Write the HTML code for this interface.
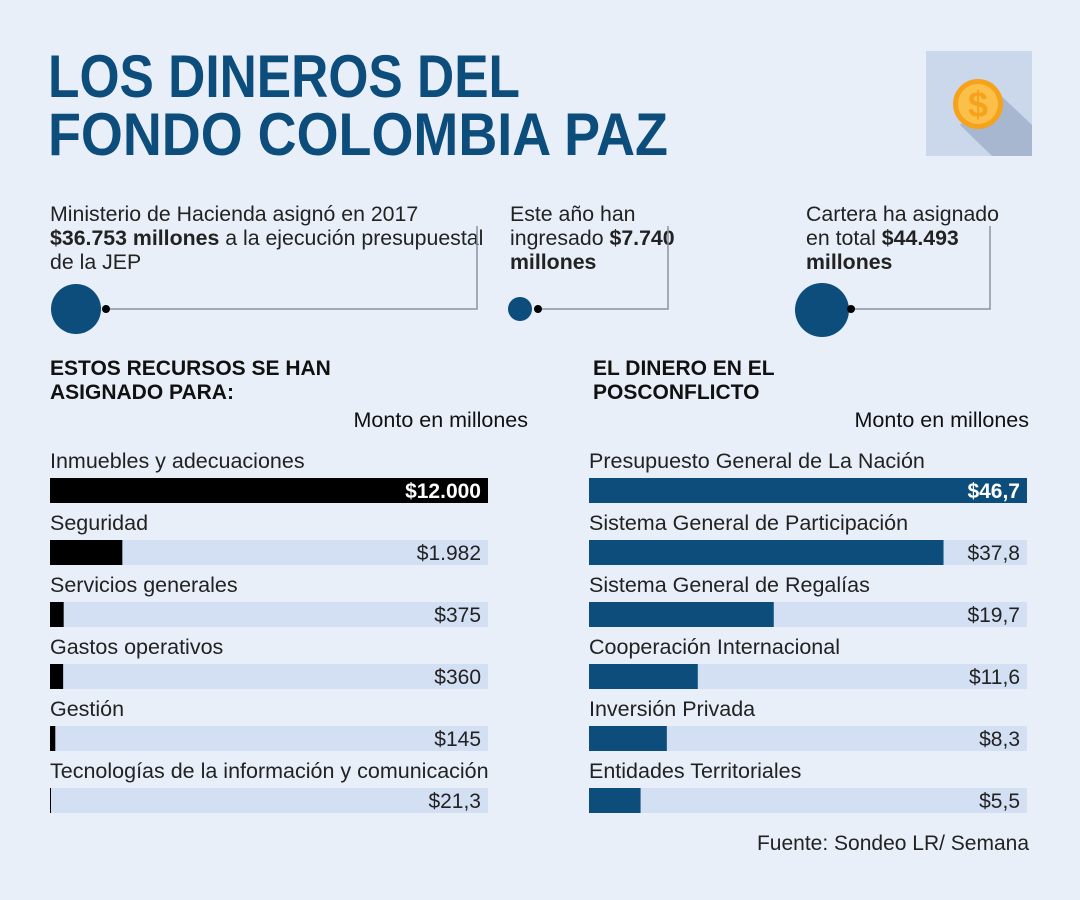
<!DOCTYPE html>
<html><head><meta charset="utf-8"><style>
body{margin:0;background:#e8eff9;}
svg{display:block;font-family:"Liberation Sans",sans-serif;}
</style></head><body>
<svg width="1080" height="900" viewBox="0 0 1080 900">
<rect width="1080" height="900" fill="#e8eff9"/>
<g fill="#0d4d7c" font-weight="bold" font-size="60">
<text x="48" y="97" textLength="472" lengthAdjust="spacingAndGlyphs">LOS DINEROS DEL</text>
<text x="48" y="155" textLength="620" lengthAdjust="spacingAndGlyphs">FONDO COLOMBIA PAZ</text>
</g>
<g>
<rect x="926" y="51" width="106" height="105" fill="#cbd7ea"/>
<polygon points="960,125 995,90 1032,125 1032,156 992,156" fill="#a7b7d0"/>
<circle cx="978" cy="104" r="25" fill="#f7a21b"/>
<circle cx="978" cy="104" r="20" fill="#fbc04a"/>
<text x="978" y="117" text-anchor="middle" font-size="36" font-weight="bold" fill="#f7a21b">$</text>
</g>
<g font-size="21.3" fill="#222">
<text x="50" y="221">Ministerio de Hacienda asignó en 2017</text>
<text x="50" y="245"><tspan font-weight="bold">$36.753 millones</tspan> a la ejecución presupuestal</text>
<text x="50" y="269">de la JEP</text>
<text x="510" y="221">Este año han</text>
<text x="510" y="245">ingresado <tspan font-weight="bold">$7.740</tspan></text>
<text x="510" y="269" font-weight="bold">millones</text>
<text x="806" y="221">Cartera ha asignado</text>
<text x="806" y="245">en total <tspan font-weight="bold">$44.493</tspan></text>
<text x="806" y="269" font-weight="bold">millones</text>
</g>
<g>
<polyline points="106,309 477,309 477,226" fill="none" stroke="#8a93a3" stroke-width="1.5"/>
<circle cx="76" cy="309" r="25" fill="#0d4d7c"/><circle cx="106" cy="309" r="4" fill="#000"/>
<polyline points="538,309 668,309 668,226" fill="none" stroke="#8a93a3" stroke-width="1.5"/>
<circle cx="520" cy="309" r="12" fill="#0d4d7c"/><circle cx="538" cy="309" r="4" fill="#000"/>
<polyline points="851,309 990,309 990,226" fill="none" stroke="#8a93a3" stroke-width="1.5"/>
<circle cx="822" cy="310" r="27" fill="#0d4d7c"/><circle cx="851" cy="309" r="4" fill="#000"/>
</g>
<g font-weight="bold" font-size="21" fill="#111">
<text x="50" y="375">ESTOS RECURSOS SE HAN</text>
<text x="50" y="399">ASIGNADO PARA:</text>
<text x="593" y="375">EL DINERO EN EL</text>
<text x="593" y="399">POSCONFLICTO</text>
</g>
<g font-size="21.5" fill="#111">
<text x="528" y="427" text-anchor="end">Monto en millones</text>
<text x="1029" y="427" text-anchor="end">Monto en millones</text>
</g>
<g id="left"></g>
<g id="right"></g>
<text x="1029" y="850" text-anchor="end" font-size="21" fill="#222">Fuente: Sondeo LR/ Semana</text>
</svg>
<script>
const leftCats=["Inmuebles y adecuaciones","Seguridad","Servicios generales","Gastos operativos","Gestión","Tecnologías de la información y comunicación"];
const leftVals=[12000,1982,375,360,145,21.3];
const leftLabels=["$12.000","$1.982","$375","$360","$145","$21,3"];
const rightCats=["Presupuesto General de La Nación","Sistema General de Participación","Sistema General de Regalías","Cooperación Internacional","Inversión Privada","Entidades Territoriales"];
const rightVals=[46.7,37.8,19.7,11.6,8.3,5.5];
const rightLabels=["$46,7","$37,8","$19,7","$11,6","$8,3","$5,5"];
const NS="http://www.w3.org/2000/svg";
function mk(t,a){const e=document.createElementNS(NS,t);for(const k in a)e.setAttribute(k,a[k]);return e;}
function draw(g,x0,cats,vals,labels,color){
  const W=438,max=Math.max(...vals);
  const sx=v=>v/max*W;
  cats.forEach((c,i)=>{
    const y=478+i*62;
    const lab=mk("text",{x:x0,y:y-10,"font-size":21.5,fill:"#222"});lab.textContent=c;
    
    
    g.appendChild(lab);
    const tr=mk("rect",{x:x0,y:y,width:W,height:25,fill:"#d3e0f3"});
    
    
    g.appendChild(tr);
    const b=mk("rect",{x:x0,y:y,width:Math.max(1,sx(vals[i])),height:25,fill:color});
    
    
    g.appendChild(b);
    const full=sx(vals[i])>W-10;
    const v=mk("text",{x:x0+W-7,y:y+20,"text-anchor":"end","font-size":21,fill:full?"#fff":"#222","font-weight":full?"bold":"normal"});
    v.textContent=labels[i];
    
    
    g.appendChild(v);
  });
}
draw(document.getElementById('left'),50,leftCats,leftVals,leftLabels,"#000");
draw(document.getElementById('right'),589,rightCats,rightVals,rightLabels,"#0d4d7c");
</script>
</body></html>
